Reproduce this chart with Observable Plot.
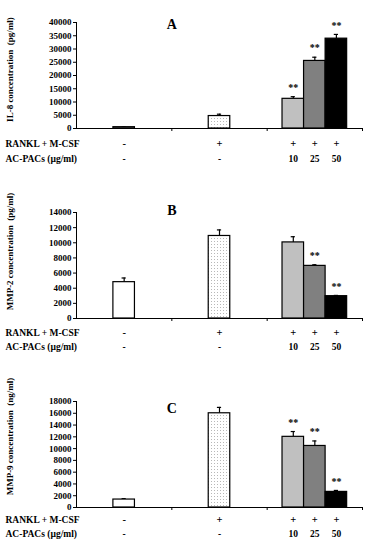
<!DOCTYPE html>
<html><head><meta charset="utf-8">
<script src="https://cdn.jsdelivr.net/npm/d3@7"></script>
<script src="https://cdn.jsdelivr.net/npm/@observablehq/plot@0.6"></script>
<style>
body{margin:0;background:#fff;width:368px;height:550px;overflow:hidden}
svg{display:block}
</style></head><body><div id="c"></div>
<script>
const conditions = ["Control","RANKL + M-CSF","AC-PACs 10","AC-PACs 25","AC-PACs 50"];
const groupOf = [0, 1, 2, 2, 2];
const slotOf = [0, 0, -1, 0, 1];
const ranklRow = ["-","+","+","+","+"];
const acpacsRow = ["-","-","10","25","50"];

const il8 = [500, 4700, 11200, 25500, 33900];
const il8Err = [100, 700, 800, 1400, 1600];
const il8Sig = ["", "", "**", "**", "**"];

const mmp2 = [4800, 10900, 10050, 6950, 2950];
const mmp2Err = [550, 800, 750, 150, 100];
const mmp2Sig = ["", "", "", "**", "**"];

const mmp9 = [1350, 16000, 12000, 10450, 2650];
const mmp9Err = [150, 1000, 900, 850, 250];
const mmp9Sig = ["", "", "**", "**", "**"];

const fills = ["white", "url(#dots)", "#c0c0c0", "#808080", "black"];
const BW = 0.226;
const CAP = 0.022;

function panel(opts) {
  const {id, title, label, values, errs, sigs, ymax, ystep, height, mt, mb, dyRow1, dyRow2, titleDy, labelDy} = opts;
  const data = conditions.map((c, i) => ({
    c, value: values[i], err: errs[i], sig: sigs[i],
    cx: groupOf[i] + 0.5 + slotOf[i] * BW,
    fill: fills[i].replace("#dots", "#dots" + id),
    rankl: ranklRow[i], ac: acpacsRow[i]
  }));
  const svg = Plot.plot({
    width: 368, height, marginLeft: 76, marginRight: 6, marginTop: mt, marginBottom: mb,
    style: {fontFamily: "'Liberation Serif', serif", fontWeight: "bold", fontSize: "9px", background: "white"},
    x: {type: "linear", domain: [0, 3], axis: null},
    y: {domain: [0, ymax]},
    color: {type: "identity"},
    marks: [
      Plot.axisY({ticks: d3.range(0, ymax + 1, ystep), tickFormat: d3.format("d"), tickSize: 3, tickPadding: 2, label: null, fontSize: 9}),
      Plot.text([label], {frameAnchor: "left", dx: -66, dy: labelDy, rotate: -90, textAnchor: "middle", fontSize: 9}),
      Plot.axisX({ticks: [1, 2, 3], tickFormat: () => "", tickSize: 3, label: null}),
      Plot.ruleX([0], {stroke: "black"}),
      Plot.ruleX(data, {x: "cx", y1: "value", y2: d => d.value + d.err, stroke: "black", strokeWidth: 1.2}),
      Plot.ruleY(data, {x1: d => d.cx - CAP, x2: d => d.cx + CAP, y: d => d.value + d.err, stroke: "black", strokeWidth: 1.2}),
      Plot.rectY(data, {x1: d => d.cx - BW / 2, x2: d => d.cx + BW / 2, y: "value", fill: "fill", stroke: "black", strokeWidth: 1.2}),
      Plot.ruleY([0], {stroke: "black"}),
      Plot.text(data, {x: "cx", y: d => d.value + d.err, text: "sig", dy: -9, fontSize: 10}),
      Plot.text([title], {x: 1, frameAnchor: "top", lineAnchor: "middle", dy: titleDy, fontSize: 14, fontWeight: "bold"}),
      Plot.text(data, {x: "cx", frameAnchor: "bottom", dy: dyRow1, text: "rankl", fontSize: 10.5}),
      Plot.text(data, {x: "cx", frameAnchor: "bottom", dy: dyRow2, text: "ac", fontSize: 9.5}),
      Plot.text(["RANKL + M-CSF"], {frameAnchor: "bottom-left", dx: -71, dy: dyRow1, textAnchor: "start", fontSize: 9.5}),
      Plot.text(["AC-PACs (\u00b5g/ml)"], {frameAnchor: "bottom-left", dx: -71, dy: dyRow2, textAnchor: "start", fontSize: 9.5})
    ]
  });
  const s = d3.select(svg);
  const defs = s.insert("defs", ":first-child");
  const p = defs.append("pattern").attr("id", "dots" + id).attr("patternUnits", "userSpaceOnUse").attr("width", 3).attr("height", 3);
  p.append("rect").attr("width", 3).attr("height", 3).attr("fill", "white");
  p.append("rect").attr("x", 1).attr("y", 1).attr("width", 1).attr("height", 1).attr("fill", "#b8b8b8");
  return svg;
}

const c = document.getElementById("c");
c.append(panel({id: "A", title: "A", label: "IL-8 concentration  (pg/ml)", values: il8, errs: il8Err, sigs: il8Sig, ymax: 40000, ystep: 5000, height: 183, mt: 22, mb: 55, dyRow1: 18, dyRow2: 33, titleDy: 2, labelDy: -6}));
c.append(panel({id: "B", title: "B", label: "MMP-2 concentration  (pg/ml)", values: mmp2, errs: mmp2Err, sigs: mmp2Sig, ymax: 14000, ystep: 2000, height: 183, mt: 29, mb: 48, dyRow1: 17, dyRow2: 31, titleDy: -2, labelDy: -14}));
c.append(panel({id: "C", title: "C", label: "MMP-9 concentration  (ng/ml)", values: mmp9, errs: mmp9Err, sigs: mmp9Sig, ymax: 18000, ystep: 2000, height: 184, mt: 35, mb: 43, dyRow1: 15, dyRow2: 29, titleDy: 7, labelDy: -18}));
</script></body></html>
